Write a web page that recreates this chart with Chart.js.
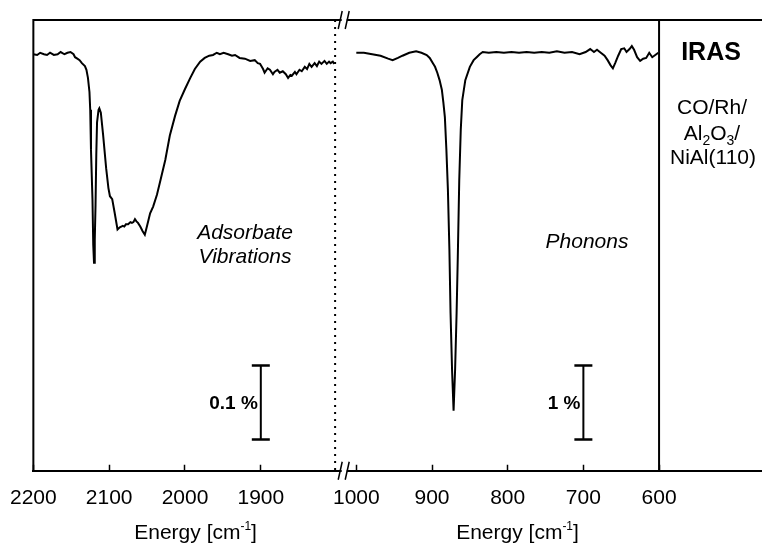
<!DOCTYPE html>
<html>
<head>
<meta charset="utf-8">
<script src="https://cdn.jsdelivr.net/npm/chart.js@4.4.0/dist/chart.umd.min.js"></script>
<style>
  body { margin: 0; background: #fff; }
  canvas { display: block; }
</style>
</head>
<body>
<canvas id="myChart" width="762" height="544"></canvas>
<script>
// adsorbate (CO stretch) region, energy in cm-1, signal dR/R in %
var adsEnergy = [2200, 2195, 2191, 2186, 2182, 2178, 2173, 2168, 2164, 2159, 2155, 2151, 2147, 2145, 2142, 2139,
    2136, 2132, 2130, 2128, 2126, 2125, 2124, 2122, 2121, 2120, 2119, 2118, 2117, 2116, 2114, 2113, 2111, 2108,
    2104, 2101, 2099, 2096, 2093, 2089, 2086, 2084, 2082, 2080, 2078, 2075, 2072, 2070, 2068, 2066, 2064, 2062,
    2059, 2056, 2053, 2050, 2046, 2042, 2037, 2033, 2026, 2020, 2013, 2007, 2000, 1993, 1987, 1980, 1974, 1968,
    1963, 1958, 1954, 1949, 1943, 1938, 1934, 1928, 1921, 1914, 1908, 1904, 1901, 1897, 1895, 1891, 1888, 1884,
    1882, 1878, 1875, 1871, 1867, 1864, 1861, 1859, 1855, 1853, 1849, 1846, 1842, 1839, 1836, 1833, 1829, 1826,
    1823, 1820, 1816, 1813, 1810, 1808, 1805, 1803];
var adsSignal = [0.001, 0.000, 0.003, 0.001, 0.000, 0.003, 0.000, 0.001, 0.004, 0.001, 0.003, 0.004, 0.001, -0.003,
    -0.005, -0.007, -0.011, -0.015, -0.020, -0.031, -0.050, -0.074, -0.128, -0.196, -0.257, -0.281, -0.250, -0.203,
    -0.135, -0.091, -0.074, -0.072, -0.078, -0.108, -0.153, -0.180, -0.191, -0.195, -0.212, -0.236, -0.233, -0.232,
    -0.231, -0.232, -0.229, -0.229, -0.226, -0.227, -0.226, -0.222, -0.225, -0.227, -0.232, -0.238, -0.243, -0.231,
    -0.214, -0.205, -0.189, -0.172, -0.142, -0.109, -0.082, -0.062, -0.046, -0.031, -0.019, -0.009, -0.004, -0.001,
    0.000, 0.003, 0.001, 0.003, 0.001, -0.001, 0.000, -0.004, -0.005, -0.008, -0.007, -0.011, -0.012, -0.019, -0.024,
    -0.018, -0.020, -0.026, -0.023, -0.020, -0.024, -0.022, -0.026, -0.031, -0.027, -0.028, -0.023, -0.026, -0.020,
    -0.022, -0.016, -0.019, -0.012, -0.016, -0.011, -0.015, -0.009, -0.012, -0.008, -0.012, -0.009, -0.011, -0.009,
    -0.012];

// phonon region
var phonEnergy = [1000, 990, 979, 968, 958, 952, 945, 939, 930, 921, 914, 907, 903, 899, 896, 893, 890, 887, 885,
    883, 881, 879, 877, 875.5, 873.5, 871.5, 869.5, 867.5, 866, 864, 862, 860, 856, 850, 845, 841, 837, 833, 825,
    815, 805, 795, 785, 775, 765, 755, 745, 735, 725, 715, 705, 697, 691, 686, 682, 677, 672, 668, 664, 661, 658,
    654, 650, 646, 643, 639, 636, 633, 629, 625, 621, 617, 613, 609, 605, 601];
var phonSignal = [0.03, 0.03, 0.01, -0.01, -0.05, -0.07, -0.04, -0.01, 0.03, 0.05, 0.03, 0, -0.04, -0.11, -0.16,
    -0.24, -0.34, -0.47, -0.64, -0.84, -1.28, -1.82, -2.64, -3.49, -4.26, -4.81, -4.26, -3.49, -2.77, -1.69, -1.01,
    -0.61, -0.34, -0.16, -0.07, -0.03, 0.01, 0.04, 0.03, 0.04, 0.03, 0.04, 0.03, 0.04, 0.03, 0.04, 0.03, 0.05, 0.03,
    0.04, 0.01, 0.04, 0.08, 0.04, 0.07, 0.03, -0.01, -0.07, -0.14, -0.18, -0.11, -0.01, 0.08, 0.09, 0.04, 0.08, 0.12,
    0.07, -0.03, -0.08, -0.05, -0.04, 0.03, -0.03, 0, 0.03];

var leftTicks = [2200, 2100, 2000, 1900];
var rightTicks = [1000, 900, 800, 700, 600];

var FONT = "'Liberation Sans', Arial, sans-serif";
Chart.defaults.font.family = FONT;
Chart.defaults.color = '#000';

function pts(xs, ys) {
    return xs.map(function (x, i) { return { x: x, y: ys[i] }; });
}

function energyAxis(min, max, weight, tickList) {
    return {
        type: 'linear',
        position: 'bottom',
        stack: 'energy',
        stackWeight: weight,
        reverse: true,
        min: min,
        max: max,
        afterBuildTicks: function (s) {
            s.ticks = tickList.map(function (v) { return { value: v }; });
        },
        grid: { drawOnChartArea: false, drawTicks: true, tickLength: -6, tickWidth: 1.5, tickColor: '#000' },
        border: { display: true, color: '#000', width: 2 },
        ticks: {
            color: '#000', padding: 10, maxRotation: 0, autoSkip: false,
            font: { size: 21, lineHeight: 2.25 },
            callback: function (v) { return String(v); }
        }
    };
}

// draws frame, break marks, scale bars and labels
var extras = {
    id: 'extras',
    afterDraw: function (chart) {
        var c = chart.ctx, a = chart.chartArea;
        var xL = chart.scales.xL, xR = chart.scales.xR, yL = chart.scales.yL, yR = chart.scales.yR;
        c.save();
        c.strokeStyle = '#000';
        c.fillStyle = '#000';
        c.lineWidth = 2;

        c.beginPath();
        c.moveTo(a.left, a.bottom);
        c.lineTo(a.left, a.top);
        c.lineTo(a.right, a.top);
        var xd = xR.getPixelForValue(600);
        c.moveTo(xd, a.top);
        c.lineTo(xd, a.bottom);
        c.stroke();

        var xdot = xL.getPixelForValue(1802);
        c.setLineDash([2, 5]);
        c.beginPath();
        c.moveTo(xdot, a.top);
        c.lineTo(xdot, a.bottom);
        c.stroke();
        c.setLineDash([]);

        var bx = xL.right;
        [a.top, a.bottom].forEach(function (y) {
            c.fillStyle = '#fff';
            c.fillRect(bx - 2.5, y - 2, 5, 4);
            c.lineWidth = 1.5;
            c.beginPath();
            c.moveTo(bx - 6, y + 9); c.lineTo(bx - 2, y - 9);
            c.moveTo(bx + 1, y + 9); c.lineTo(bx + 5, y - 9);
            c.stroke();
        });
        c.fillStyle = '#000';

        function bar(xs, ys, xv, v0, v1, label) {
            var x = xs.getPixelForValue(xv);
            var p0 = ys.getPixelForValue(v0), p1 = ys.getPixelForValue(v1);
            c.lineWidth = 2;
            c.beginPath();
            c.moveTo(x, p0); c.lineTo(x, p1);
            c.stroke();
            c.lineWidth = 2.5;
            c.beginPath();
            c.moveTo(x - 9, p0); c.lineTo(x + 9, p0);
            c.moveTo(x - 9, p1); c.lineTo(x + 9, p1);
            c.stroke();
            c.font = 'bold 19px ' + FONT;
            c.textAlign = 'right';
            c.textBaseline = 'middle';
            c.fillText(label, x - 3, (p0 + p1) / 2 + 1);
        }
        bar(xL, yL, 1900, -0.42, -0.52, '0.1 %');
        bar(xR, yR, 700, -4.2, -5.2, '1 %');

        c.textAlign = 'center';
        c.textBaseline = 'middle';
        c.font = 'italic 21px ' + FONT;
        c.fillText('Adsorbate', 245, 233);
        c.fillText('Vibrations', 245, 257);
        c.fillText('Phonons', 587, 242);

        c.font = 'bold 25px ' + FONT;
        c.fillText('IRAS', 711, 53);
        c.font = '21px ' + FONT;
        c.fillText('CO/Rh/', 712, 108);
        c.fillText('NiAl(110)', 713, 158);

        // Al2O3/ with subscripts
        var parts = [['Al', 0], ['2', 1], ['O', 0], ['3', 1], ['/', 0]];
        var w = 0;
        parts.forEach(function (p) {
            c.font = (p[1] ? '14px ' : '21px ') + FONT;
            w += c.measureText(p[0]).width;
        });
        var x = 712 - w / 2;
        c.textAlign = 'left';
        c.textBaseline = 'alphabetic';
        parts.forEach(function (p) {
            c.font = (p[1] ? '14px ' : '21px ') + FONT;
            c.fillText(p[0], x, p[1] ? 145 : 140);
            x += c.measureText(p[0]).width;
        });

        // axis titles
        function axisTitle(cx) {
            var segs = [['Energy [cm', 21, 0], ['-1', 12, -9], [']', 21, 0]];
            var tw = 0;
            segs.forEach(function (s) { c.font = s[1] + 'px ' + FONT; tw += c.measureText(s[0]).width; });
            var px = cx - tw / 2;
            segs.forEach(function (s) {
                c.font = s[1] + 'px ' + FONT;
                c.fillText(s[0], px, 539 + s[2]);
                px += c.measureText(s[0]).width;
            });
        }
        axisTitle(xL.getPixelForValue(1986));
        axisTitle(xR.getPixelForValue(787));
        c.restore();
    }
};

var ctx = document.getElementById('myChart').getContext('2d');

var myChart = new Chart(ctx, {
    type: 'line',
    data: {
        datasets: [{
            label: 'adsorbate',
            data: pts(adsEnergy, adsSignal),
            xAxisID: 'xL',
            yAxisID: 'yL',
            borderColor: '#000',
            borderWidth: 2,
            pointRadius: 0,
            tension: 0
        }, {
            label: 'phonons',
            data: pts(phonEnergy, phonSignal),
            xAxisID: 'xR',
            yAxisID: 'yR',
            borderColor: '#000',
            borderWidth: 2,
            pointRadius: 0,
            tension: 0
        }]
    },
    options: {
        responsive: false,
        animation: false,
        layout: { padding: { left: 33, top: 20, right: 0, bottom: 12 } },
        plugins: {
            legend: { display: false },
            tooltip: { enabled: false }
        },
        scales: {
            xL: energyAxis(1790, 2200, 311, leftTicks),
            xR: energyAxis(464, 1016, 418, rightTicks),
            yL: { type: 'linear', display: false, min: -0.5622, max: 0.0473 },
            yR: { type: 'linear', display: false, min: -5.622, max: 0.473 }
        }
    },
    plugins: [extras]
});
</script>
</body>
</html>
